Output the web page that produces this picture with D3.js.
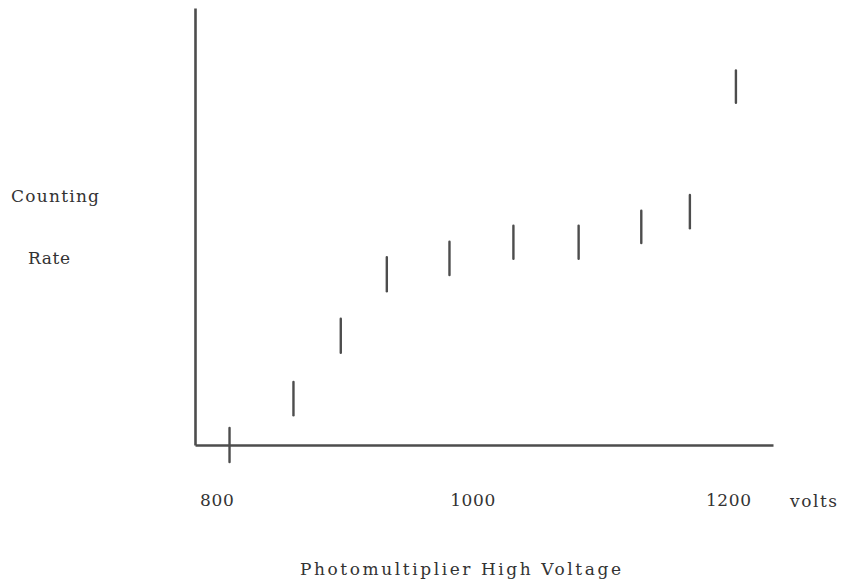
<!DOCTYPE html>
<html>
<head>
<meta charset="utf-8">
<script src="https://cdn.jsdelivr.net/npm/d3@7"></script>
<style>
  html, body { margin: 0; padding: 0; background: #ffffff; }
  svg { display: block; }
  text { font-family: "DejaVu Serif", "Liberation Serif", serif; fill: #333333; }
</style>
</head>
<body>
<svg id="chart" width="845" height="584"></svg>
<script>
// ---- data ----
const voltages = [810, 860, 897, 933, 982, 1032, 1083, 1132, 1170, 1206];
const rates    = [0, 10.6, 25.0, 39.1, 42.7, 46.4, 46.4, 49.9, 53.4, 82.0];
const errors   = [3.9, 3.8, 3.9, 3.9, 3.8, 3.8, 3.8, 3.7, 3.8, 3.7];
const tickValues = [800, 1000, 1200];
const tickLabels = ["800", "1000", "1200"];
const xUnit = "volts";
const xTitle = "Photomultiplier High Voltage";
const yTitleLines = ["Counting", "Rate"];

// ---- layout ----
const svg = d3.select("#chart");
const x = d3.scaleLinear().domain([783, 1235]).range([195, 773]);
const y = d3.scaleLinear().domain([0, 100]).range([445, 8]);

const ink = "#4d4d4d";

// x axis (line + tick labels below)
const xAxis = d3.axisBottom(x)
  .tickValues(tickValues)
  .tickFormat((d, i) => tickLabels[i])
  .tickSize(0)
  .tickSizeOuter(0)
  .tickPadding(49);
const gx = svg.append("g").attr("transform", `translate(0,${y(0)})`).call(xAxis);
gx.select(".domain").attr("stroke", ink).attr("stroke-width", 2.6);
gx.selectAll(".tick text")
  .attr("font-family", "DejaVu Serif, serif")
  .attr("font-size", 17)
  .attr("fill", "#333333")
  .style("letter-spacing", "0.6px");

// y axis (plain line, no ticks)
const yAxis = d3.axisLeft(y).tickValues([]).tickSize(0).tickSizeOuter(0);
const gy = svg.append("g").attr("transform", `translate(${x.range()[0]},0)`).call(yAxis);
gy.select(".domain").attr("stroke", ink).attr("stroke-width", 2.6);

// error bars
const pts = voltages.map((v, i) => ({ v, r: rates[i], e: errors[i] }));
svg.append("g").selectAll("line.err").data(pts).join("line")
  .attr("class", "err")
  .attr("x1", d => x(d.v)).attr("x2", d => x(d.v))
  .attr("y1", d => y(d.r - d.e)).attr("y2", d => y(d.r + d.e))
  .attr("stroke", ink).attr("stroke-width", 2.4).attr("stroke-linecap", "round");

// texts
svg.append("text").attr("x", 11).attr("y", 202)
  .attr("font-size", 17).attr("textLength", 88).attr("lengthAdjust", "spacing")
  .text(yTitleLines[0]);
svg.append("text").attr("x", 28).attr("y", 264)
  .attr("font-size", 17).attr("textLength", 42).attr("lengthAdjust", "spacing")
  .text(yTitleLines[1]);
svg.append("text").attr("x", 790).attr("y", 507)
  .attr("font-size", 17).attr("textLength", 47).attr("lengthAdjust", "spacing")
  .text(xUnit);
svg.append("text").attr("x", 300).attr("y", 575)
  .attr("font-size", 17).attr("textLength", 321).attr("lengthAdjust", "spacing")
  .text(xTitle);
</script>
</body>
</html>
